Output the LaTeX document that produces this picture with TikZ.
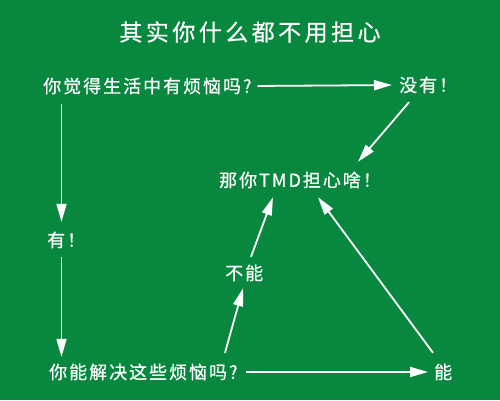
\documentclass[tikz,border=0pt]{standalone}
\usepackage{fontspec}
\usetikzlibrary{arrows.meta}
\newfontfamily\cjkfont[LetterSpace=11,FakeBold=0.6]{Noto Sans CJK SC}
\newfontfamily\cjktitle[LetterSpace=15,FakeBold=0.6]{Noto Sans CJK SC}
\definecolor{bggreen}{RGB}{8,135,62}
\tikzset{
  lbl/.style={text=white, inner sep=0pt, anchor=west, font=\cjkfont\fontsize{18}{20}\selectfont, text height=16.8pt, text depth=3.2pt},
  ttl/.style={text=white, inner sep=0pt, font=\cjktitle\fontsize{23}{26}\selectfont},
  arr/.style={draw=white, line width=1.8pt, -{Triangle[length=18pt,width=10pt]}}
}
\begin{document}
\begin{tikzpicture}[x=1pt,y=-1pt]
  \fill[bggreen] (0,0) rectangle (500,400);
  \useasboundingbox (0,0) rectangle (500,400);
  \node[ttl] (title) at (250,32) {其实你什么都不用担心};
  \node[lbl] (q1) at (43,86) {你觉得生活中有烦恼吗?};
  \node[lbl] (no) at (399,85) {没有！};
  \node[lbl] (tmd) at (219,180) {那你TMD担心啥！};
  \node[lbl] (you) at (47,240) {有！};
  \node[lbl] (buneng) at (225,273) {不能};
  \node[lbl] (q2) at (49,372) {你能解决这些烦恼吗?};
  \node[lbl] (neng) at (434,372) {能};
  \draw[arr, shorten <=6pt, shorten >=7pt] (q1.east) -- (no.west);
  \draw[arr] ([shift={(18.5,8)}]q1.south west) -- ([shift={(14.5,-8)}]you.north west);
  \draw[arr] ([shift={(14.5,7)}]you.south west) -- ([shift={(12.5,-5)}]q2.north west);
  \draw[arr] ([shift={(10,7)}]no.south west) -- ([shift={(139,-8)}]tmd.north west);
  \draw[arr] ([shift={(176,-9)}]q2.north west) -- ([shift={(18,5)}]buneng.south west);
  \draw[arr] ([shift={(26,-6)}]buneng.north west) -- ([shift={(54,7)}]tmd.south west);
  \draw[arr] ([shift={(-1,-9)}]neng.north west) -- ([shift={(99,7)}]tmd.south west);
  \draw[arr, shorten <=8pt, shorten >=6pt] (q2.east) -- (neng.west);
\end{tikzpicture}
\end{document}
